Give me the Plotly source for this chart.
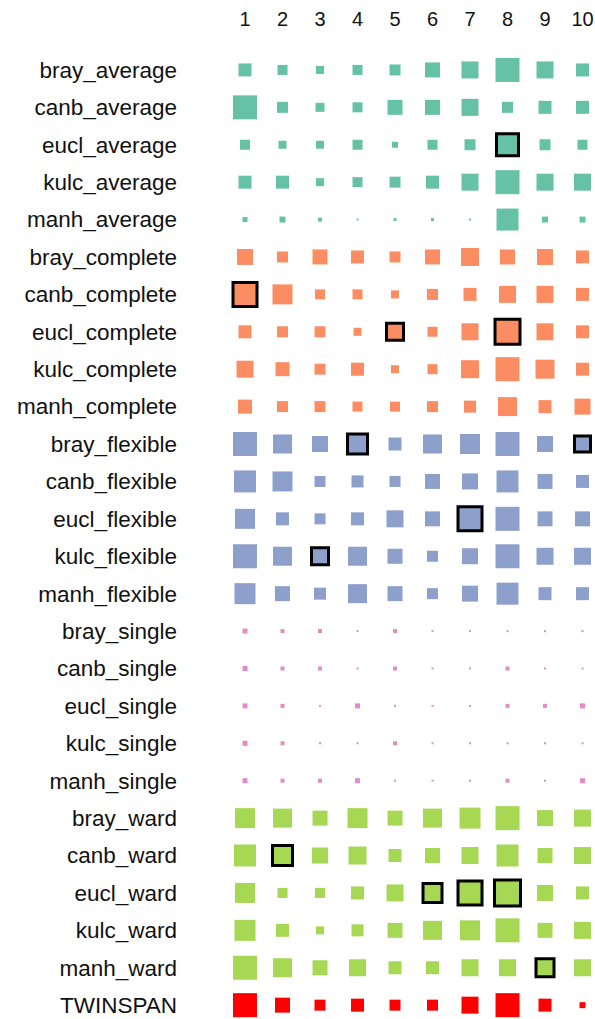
import plotly.graph_objects as go

# Clustering runs shown as rows, grouped by linkage method
methods = ["bray", "canb", "eucl", "kulc", "manh"]
linkages = ["average", "complete", "flexible", "single", "ward"]
columns = list(range(1, 11))

# Score per cluster (1..10) for each distance measure, one block per linkage
average = [
    [13, 10, 8, 10, 11, 15, 17, 24, 17, 13],
    [24, 11, 9, 10, 15, 15, 17, 11, 13, 13],
    [10, 8, 8, 10, 6, 10, 11, 22, 11, 10],
    [13, 13, 8, 10, 11, 13, 17, 24, 17, 17],
    [5, 6, 4, 2, 3, 3, 2, 22, 6, 6],
]
complete = [
    [16, 11, 15, 13, 11, 15, 18, 15, 16, 13],
    [24, 20, 10, 10, 8, 11, 13, 17, 17, 13],
    [13, 11, 11, 8, 17, 10, 17, 25, 17, 13],
    [17, 14, 11, 13, 8, 10, 18, 24, 19, 13],
    [14, 11, 11, 10, 10, 11, 12, 19, 13, 16],
]
flexible = [
    [24, 19, 16, 20, 13, 19, 20, 24, 16, 16],
    [22, 20, 11, 12, 11, 15, 16, 22, 15, 13],
    [20, 13, 11, 13, 17, 15, 24, 24, 15, 15],
    [24, 19, 17, 19, 15, 11, 16, 24, 17, 17],
    [21, 15, 12, 19, 15, 11, 16, 22, 13, 13],
]
single = [
    [5, 4, 4, 2, 4, 2, 2, 2, 2, 2],
    [5, 4, 4, 2, 4, 2, 2, 4, 2, 2],
    [5, 4, 2, 5, 2, 2, 2, 4, 4, 5],
    [5, 4, 2, 2, 4, 2, 2, 2, 2, 2],
    [5, 4, 4, 5, 2, 2, 2, 4, 2, 5],
]
ward = [
    [20, 19, 15, 20, 15, 19, 21, 24, 16, 17],
    [22, 20, 16, 18, 13, 15, 17, 22, 15, 17],
    [20, 10, 10, 13, 17, 19, 24, 26, 16, 13],
    [21, 13, 8, 12, 15, 19, 20, 24, 15, 17],
    [24, 19, 15, 17, 13, 13, 17, 17, 18, 17],
]
twinspan = [24, 15, 11, 13, 11, 11, 17, 24, 13, 6]

# Best run per cluster: (row label, cluster)
highlighted = [
    ("eucl_average", 8),
    ("canb_complete", 1), ("eucl_complete", 5), ("eucl_complete", 8),
    ("bray_flexible", 4), ("bray_flexible", 10), ("eucl_flexible", 7),
    ("kulc_flexible", 3),
    ("canb_ward", 2), ("eucl_ward", 6), ("eucl_ward", 7), ("eucl_ward", 8),
    ("manh_ward", 9),
]

colors = {
    "average": "#66C2A5",
    "complete": "#FC8D62",
    "flexible": "#8DA0CB",
    "single": "#E78AC3",
    "ward": "#A6D854",
    "TWINSPAN": "#FF0000",
}
blocks = {
    "average": average,
    "complete": complete,
    "flexible": flexible,
    "single": single,
    "ward": ward,
}

SIZE_PER_UNIT = 1.0

row_labels = []
fig = go.Figure()
for link in linkages:
    xs, ys, sz, lw = [], [], [], []
    for m, vals in zip(methods, blocks[link]):
        label = f"{m}_{link}"
        idx = len(row_labels)
        row_labels.append(label)
        for c, v in zip(columns, vals):
            xs.append(c)
            ys.append(idx)
            sz.append(v * SIZE_PER_UNIT)
            lw.append(3 if (label, c) in highlighted else 0)
    fig.add_trace(go.Scatter(
        x=xs, y=ys, mode="markers", hoverinfo="skip", showlegend=False,
        marker=dict(symbol="square", size=sz, color=colors[link],
                    opacity=1,
                    line=dict(color="black", width=lw)),
    ))

idx = len(row_labels)
row_labels.append("TWINSPAN")
fig.add_trace(go.Scatter(
    x=columns, y=[idx] * len(columns), mode="markers", hoverinfo="skip",
    showlegend=False,
    marker=dict(symbol="square",
                size=[v * SIZE_PER_UNIT for v in twinspan],
                color=colors["TWINSPAN"], opacity=1,
                line=dict(color="black", width=0)),
))

font = dict(family="Liberation Sans, Arial, sans-serif", size=22.5, color="#111111")

fig.update_layout(
    width=595, height=1019,
    margin=dict(l=190, r=0, t=40, b=0),
    plot_bgcolor="white", paper_bgcolor="white",
    font=font,
    xaxis=dict(side="top", range=[-0.467, 10.333], tickvals=columns,
               ticktext=[str(c) for c in columns], showgrid=False,
               zeroline=False, showline=False, ticks="",
               ticklabelstandoff=9, tickfont=dict(size=20)),
    yaxis=dict(range=[25.37, -0.80], tickvals=list(range(len(row_labels))),
               ticktext=row_labels, showgrid=False, zeroline=False,
               showline=False, ticks="", ticklabelstandoff=12),
)

fig.write_html("out.html")
